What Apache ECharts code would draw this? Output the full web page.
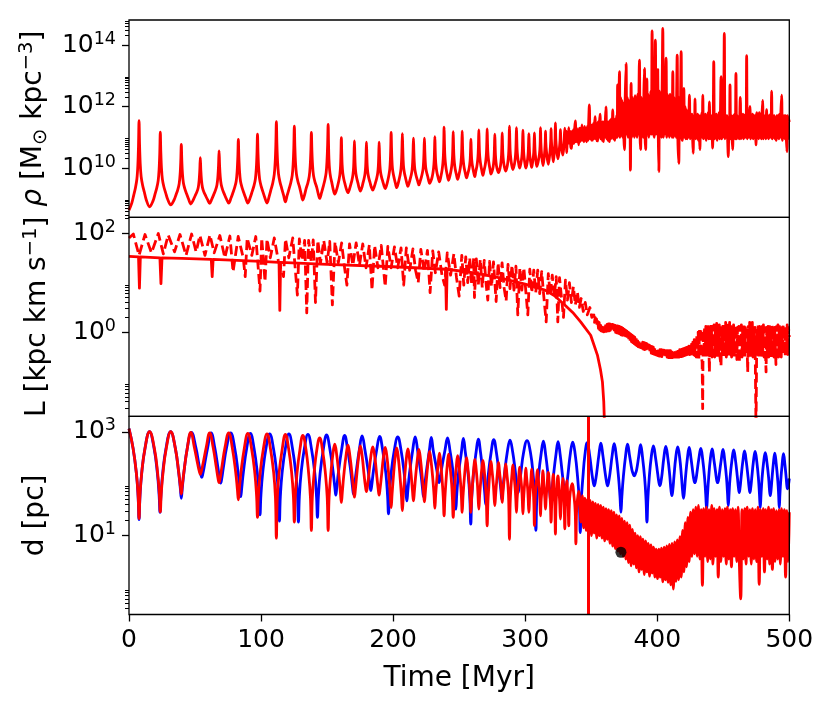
<!DOCTYPE html>
<html><head><meta charset="utf-8">
<script src="https://cdn.jsdelivr.net/npm/echarts@6/dist/echarts.min.js"></script>
<style>html,body{margin:0;padding:0;background:#fff}#c{width:830px;height:705px}</style>
</head><body><div id="c"></div>
<script>
// ---------------- DATA (time in Myr, values are log10 of the plotted quantity) ----------------
const xTicks = [0, 100, 200, 300, 400, 500];

// Top panel: rho [Msun kpc^-3], log10 values
const rhoPts = [
[0,8.63],[2.1,8.86],[3.6,9.12],[4.9,9.36],[6.0,9.65],[6.7,10.09],[7.2,10.73],[7.6,11.54],[8.0,10.76],[8.5,10.14],[9.2,9.72],[10.3,9.44],[11.6,9.22],[13.1,8.96],[15.6,8.74],
[18.2,8.93],[19.7,9.15],[21.0,9.35],[22.1,9.59],[22.8,9.96],[23.3,10.49],[23.7,11.17],[24.1,10.51],[24.6,9.99],[25.3,9.63],[26.4,9.39],[27.7,9.2],[29.2,8.99],[31.6,8.80],
[34.1,8.96],[35.6,9.13],[36.9,9.29],[38.0,9.49],[38.7,9.79],[39.2,10.22],[39.6,10.77],[40.0,10.23],[40.5,9.80],[41.2,9.51],[42.3,9.32],[43.6,9.16],[45.1,8.99],[46.8,8.83],
[48.5,8.95],[50.0,9.09],[51.3,9.21],[52.4,9.36],[53.1,9.59],[53.6,9.92],[54.0,10.34],[54.4,9.92],[54.9,9.6],[55.6,9.37],[56.7,9.22],[58.0,9.1],[59.5,8.97],[61.1,8.85],
[62.7,8.99],[64.2,9.14],[65.5,9.28],[66.6,9.45],[67.3,9.71],[67.8,10.08],[68.2,10.56],[68.6,10.08],[69.1,9.71],[69.8,9.46],[70.9,9.29],[72.2,9.15],[73.7,9.0],[75.5,8.86],
[77.3,9.03],[78.8,9.21],[80.1,9.38],[81.2,9.58],[81.9,9.9],[82.4,10.35],[82.8,10.93],[83.2,10.35],[83.7,9.9],[84.4,9.58],[85.5,9.38],[86.8,9.21],[88.3,9.03],[90,8.86],
[91.8,9.04],[93.3,9.24],[94.6,9.42],[95.7,9.64],[96.4,9.98],[96.9,10.47],[97.3,11.10],[97.7,10.47],[98.2,9.98],[98.9,9.64],[100.0,9.42],[101.3,9.24],[102.8,9.04],[104.5,8.86],
[106.1,9.07],[107.6,9.31],[108.9,9.52],[110.0,9.79],[110.7,10.19],[111.2,10.77],[111.6,11.51],[112.0,10.78],[112.5,10.21],[113.2,9.81],[114.3,9.55],[115.6,9.34],[117.1,9.11],[118.4,8.90],
[119.7,9.10],[121.2,9.32],[122.5,9.52],[123.6,9.76],[124.3,10.13],[124.8,10.67],[125.2,11.36],[125.6,10.69],[126.1,10.16],[126.8,9.8],[127.9,9.56],[129.2,9.37],[130.4,9.15],[131.6,8.96],
[132.9,9.12],[134.1,9.33],[135.4,9.51],[136.5,9.73],[137.2,10.06],[137.7,10.54],[138.1,11.16],[138.5,10.56],[139.0,10.09],[139.7,9.76],[140.8,9.55],[142.1,9.38],[143.2,9.18],[144.4,9.01],
[145.8,9.2],[147.2,9.42],[148.3,9.61],[149.3,9.85],[149.9,10.21],[150.4,10.75],[150.8,11.42],[151.1,10.78],[151.4,10.29],[151.9,9.94],[152.6,9.72],[153.5,9.54],[154.5,9.33],[155.8,9.15],
[157.1,9.28],[158.1,9.44],[159.0,9.61],[159.7,9.79],[160.2,10.07],[160.5,10.47],[160.8,10.99],[161.1,10.49],[161.4,10.1],[161.9,9.83],[162.6,9.65],[163.5,9.49],[164.5,9.33],[165.8,9.2],
[167.0,9.32],[168.0,9.47],[168.9,9.62],[169.6,9.79],[170.1,10.04],[170.4,10.41],[170.7,10.88],[171.0,10.42],[171.3,10.07],[171.8,9.82],[172.5,9.66],[173.4,9.51],[174.2,9.36],[175.2,9.25],
[176.3,9.36],[177.1,9.5],[178.0,9.65],[178.7,9.81],[179.2,10.05],[179.5,10.4],[179.8,10.84],[180.1,10.4],[180.4,10.06],[180.9,9.83],[181.6,9.67],[182.5,9.53],[183.4,9.39],[184.6,9.28],
[185.7,9.39],[186.7,9.53],[187.6,9.67],[188.3,9.83],[188.8,10.06],[189.1,10.4],[189.4,10.84],[189.7,10.42],[190.0,10.09],[190.5,9.86],[191.2,9.71],[192.1,9.57],[193.0,9.44],[194,9.33],
[195.2,9.46],[196.1,9.62],[196.9,9.79],[197.5,9.97],[197.9,10.25],[198.2,10.65],[198.5,11.16],[198.8,10.66],[199.1,10.26],[199.5,9.99],[200.1,9.81],[200.9,9.65],[201.8,9.49],[202.7,9.36],
[203.7,9.48],[204.6,9.64],[205.4,9.8],[206.0,9.98],[206.4,10.24],[206.7,10.63],[207.0,11.12],[207.3,10.64],[207.6,10.26],[208.0,10.0],[208.6,9.83],[209.4,9.68],[210.3,9.52],[211.2,9.40],
[212.1,9.51],[213.0,9.65],[213.8,9.79],[214.4,9.95],[214.8,10.19],[215.1,10.53],[215.4,10.97],[215.7,10.54],[216.0,10.21],[216.4,9.98],[217.0,9.83],[217.8,9.69],[218.7,9.56],[219.5,9.45],
[220.4,9.56],[221.3,9.69],[222.1,9.83],[222.7,9.98],[223.1,10.21],[223.4,10.54],[223.7,10.97],[224.0,10.56],[224.3,10.24],[224.7,10.01],[225.3,9.87],[226.1,9.74],[226.9,9.6],[227.6,9.5],
[229.2,9.65],[230.1,9.83],[230.7,10.03],[231.1,10.26],[231.35,10.59],[231.6,11.02],[231.85,10.61],[232.1,10.29],[232.5,10.06],[233.1,9.87],[234.0,9.7],[235.1,9.55],
[236.2,9.73],[237.1,9.94],[237.7,10.17],[238.1,10.44],[238.35,10.83],[238.6,11.33],[238.85,10.85],[239.1,10.47],[239.5,10.21],[240.1,9.98],[241.0,9.77],[242,9.6],
[243.1,9.76],[244.0,9.95],[244.6,10.15],[245.0,10.39],[245.25,10.74],[245.5,11.18],[245.75,10.75],[246.0,10.41],[246.4,10.17],[247.0,9.97],[247.9,9.79],[248.9,9.63],
[249.9,9.79],[250.8,9.98],[251.4,10.18],[251.8,10.42],[252.05,10.76],[252.3,11.2],[252.55,10.77],[252.8,10.44],[253.2,10.21],[253.8,10.01],[254.7,9.83],[255.6,9.68],
[256.5,9.81],[257.4,9.96],[258.0,10.12],[258.4,10.31],[258.65,10.59],[258.9,10.94],[259.15,10.6],[259.4,10.33],[259.8,10.15],[260.4,9.99],[261.1,9.84],[261.9,9.72],
[262.5,9.87],[263.4,10.05],[264.0,10.25],[264.4,10.48],[264.65,10.81],[264.9,11.24],[265.15,10.83],[265.4,10.5],[265.8,10.28],[266.4,10.09],[267.2,9.91],[268,9.76],
[268.8,9.91],[269.7,10.09],[270.3,10.29],[270.7,10.52],[270.95,10.85],[271.2,11.27],[271.45,10.86],[271.7,10.54],[272.1,10.31],[272.7,10.12],[273.4,9.95],[274.1,9.8],
[275.4,9.96],[276.1,10.16],[276.5,10.39],[276.75,10.71],[277,11.1],[277.25,10.73],[277.5,10.41],[277.9,10.2],[278.6,10.0],[279.8,9.85],
[281.0,10.0],[281.7,10.21],[282.1,10.43],[282.35,10.75],[282.6,11.14],[282.85,10.77],[283.1,10.46],[283.5,10.25],[284.2,10.05],[285.3,9.9],
[286.5,10.08],[287.2,10.31],[287.6,10.56],[287.85,10.92],[288.1,11.36],[288.35,10.94],[288.6,10.58],[289.0,10.35],[289.7,10.12],[290.7,9.95],
[291.8,10.11],[292.5,10.33],[292.9,10.56],[293.15,10.9],[293.4,11.31],[293.65,10.92],[293.9,10.59],[294.3,10.37],[295.0,10.16],[295.8,10.0],
[296.7,10.15],[297.4,10.34],[297.8,10.55],[298.05,10.86],[298.3,11.23],[298.55,10.86],[298.8,10.55],[299.2,10.34],[299.8,10.15],[300.5,10.0],
[301.3,10.13],[301.9,10.31],[302.3,10.5],[302.55,10.78],[302.8,11.12],[303.05,10.79],[303.3,10.52],[303.7,10.33],[304.3,10.15],[304.9,10.02],
[305.5,10.15],[306.1,10.33],[306.5,10.52],[306.75,10.8],[307,11.14],[307.25,10.8],[307.5,10.54],[307.9,10.35],[308.8,10.05],
[309.8,10.2],[310.8,10.45],[311.3,10.75],[311.6,11.31],[311.9,10.8],[312.4,10.45],[313.5,10.08],
[314.4,10.35],[314.9,10.6],[315.2,10.85],[315.4,11.2],[315.6,10.85],[316.1,10.55],[317.5,10.12],
[318.6,10.45],[319.1,10.7],[319.4,10.95],[319.6,11.28],[319.8,10.95],[320.3,10.6],[321.3,10.2],
[322.1,10.55],[322.6,10.9],[322.9,11.47],[323.2,10.95],[323.8,10.6],[324.8,10.3],
[325.8,10.6],[326.4,10.9],[326.7,11.25],[327.0,10.9],[327.6,10.65],[328.5,10.42],[329.3,10.7],
[330.0,11.3],[330.5,10.8],[331.0,11.2],[331.5,10.5],[332.0,11.1],[332.5,10.8],[333.0,11.31],[333.5,10.8],[334.0,11.2],[334.5,10.7],
[335.0,10.64],[335.5,11.2],[336.0,10.8],[336.5,11.25],[337.0,10.8],[337.5,11.3],[338.0,11.53],[338.5,10.85],[339.0,11.3],[339.5,10.85],
[340.0,11.25],[340.5,10.75],[341.0,11.3],[341.5,10.85],[342.0,11.3],[342.5,10.9],[343.0,11.4],[343.5,10.9],[344.0,11.3],[344.5,10.85],
[345.0,11.35],[345.5,10.9],[346.0,11.3],[346.5,10.85],[347.0,11.35],[347.5,10.9],[348.0,11.4],[348.6,12.05],[349.1,10.95],[349.6,11.4],
[350.1,10.9],[350.6,11.4],[351.1,10.9],[351.6,11.45],[352.1,10.95],[352.5,11.4],[352.9,11.67],[353.4,10.95],[353.9,11.45],[354.4,10.9],
[354.8,10.88],[355.3,11.5],[355.8,11.0],[356.3,11.5],[356.7,11.75],[357.2,10.95],[357.7,11.45],[358.2,10.9],[358.7,11.5],[359.2,10.86],
[359.7,11.5],[360.2,11.0],[360.7,11.55],[361.2,11.99],[361.7,10.95],[362.2,11.5],[362.7,10.9],[363.2,11.5],[363.8,10.86],[364.3,11.55],
[364.8,10.95],[365.3,11.6],[365.8,11.0],[366.3,11.89],[366.8,10.95],[367.3,11.55],[367.8,10.9],[368.3,11.6],[368.8,11.0],[369.3,11.7],
[369.7,11.0],[370.0,12.7],[370.5,11.1],[371.0,12.2],[371.4,13.13],[371.8,11.0],[372.3,12.3],[372.8,11.1],[373.3,12.2],[373.8,11.0],
[374.3,12.1],[374.8,10.9],[375.2,10.59],[375.7,12.2],[376.4,13.4],[376.9,11.1],[377.4,12.3],[377.9,11.0],[378.4,12.2],[378.9,11.1],
[379.3,12.0],[379.7,9.93],[380.2,12.75],[380.7,11.0],[381.2,12.3],[381.7,11.1],[382.2,12.2],[382.7,11.0],[383.2,12.35],[383.7,11.1],
[384.2,12.2],[384.7,11.0],[385.2,12.4],[385.7,11.1],[386.1,12.3],[386.5,13.51],[387.0,11.0],[387.4,10.6],[387.9,12.3],[388.4,11.1],
[388.9,12.2],[389.4,11.0],[389.9,12.5],[390.3,13.24],[390.8,11.0],[391.2,10.6],[391.7,12.3],[392.1,12.9],[392.6,11.1],[393.1,12.4],
[393.6,11.0],[394.1,12.3],[394.6,11.1],[395.1,12.5],[395.6,11.1],[396.1,14.46],[396.6,11.1],[397.1,12.4],[397.6,11.0],[398.1,12.6],
[398.6,14.16],[399.1,11.1],[399.6,12.4],[400.0,11.1],[400.4,13.2],[400.8,11.0],[401.2,9.88],[401.7,12.5],[402.2,11.1],[402.7,12.4],
[403.2,11.0],[403.7,12.6],[404.2,14.54],[404.7,11.0],[405.2,12.4],[405.7,11.1],[406.2,12.5],[406.7,13.57],[407.2,11.0],[407.7,12.4],
[408.2,11.1],[408.7,12.3],[409.2,11.0],[409.7,12.4],[410.2,11.1],[410.7,12.2],[411.2,11.0],[411.8,13.13],[412.3,11.0],[412.8,12.3],
[413.3,11.1],[413.8,12.2],[414.3,11.0],[414.7,12.4],[415.1,13.67],[415.6,11.0],[416.3,10.15],[416.8,12.3],[417.3,11.1],[417.7,12.4],
[418.1,13.78],[418.6,11.0],[419.1,10.9],[419.6,12.2],[420.1,12.59],[420.6,11.0],[421.1,12.0],[421.6,10.95],[422.1,11.9],
[422.6,10.95],[423.1,11.75],[423.6,11.0],[424.0,11.7],[424.4,12.37],[424.9,10.95],[425.4,11.7],[425.9,11.0],[426.3,11.75],[426.8,10.95],
[427.2,10.48],[427.7,11.7],[428.2,11.0],[428.6,12.25],[429.1,10.95],[429.6,11.7],[430.1,11.0],[430.6,11.75],[431.1,10.9],[431.6,11.7],
[432.0,11.0],[432.3,10.6],[432.8,11.7],[433.3,11.0],[433.8,11.8],[434.1,11.0],[434.5,12.37],[435.0,10.95],[435.5,11.7],[436.0,11.0],
[436.5,11.75],[437.0,10.9],[437.5,11.7],[438.0,11.0],[438.5,11.8],[439.0,10.95],[439.5,12.15],[440.0,10.95],[440.5,11.7],[441.0,11.0],
[441.5,11.7],[441.9,10.65],[442.4,11.7],[442.8,13.46],[443.3,10.95],[443.8,11.7],[444.3,11.0],[444.8,11.75],[445.3,10.9],[445.8,11.7],
[446.3,11.0],[446.8,11.8],[447.3,10.95],[447.8,11.7],[448.3,12.97],[448.8,10.95],[449.3,11.7],[449.8,11.0],[450.3,11.8],[450.8,14.38],
[451.3,10.95],[451.8,11.7],[452.3,11.0],[452.8,11.7],[453.3,10.95],[453.8,10.37],[454.3,11.6],[454.7,11.0],[455.1,12.7],[455.6,10.95],
[456.1,11.7],[456.6,11.0],[457.1,10.6],[457.6,11.7],[458.1,11.0],[458.6,11.75],[459.1,10.95],[459.6,13.08],[460.1,10.95],[460.6,11.7],
[461.1,11.0],[461.6,11.6],[462.1,10.95],[462.5,11.7],[462.9,12.3],[463.4,10.95],[463.9,11.7],[464.4,11.0],[464.9,11.75],[465.4,10.95],
[465.9,11.7],[466.4,11.0],[466.9,11.75],[467.3,11.0],[467.7,13.65],[468.2,10.95],[468.7,11.6],[469.2,11.0],[469.7,11.7],[470.2,12.0],
[470.7,10.95],[471.2,11.7],[471.7,11.0],[472.2,11.75],[472.7,10.95],[473.2,11.7],[473.7,11.0],[474.2,11.7],[474.8,10.75],[475.3,11.8],
[475.8,11.0],[476.3,11.75],[476.8,10.95],[477.3,11.8],[477.8,11.0],[478.3,11.7],[478.8,10.95],[479.3,11.7],[479.8,12.2],[480.3,10.95],
[480.8,11.7],[481.3,11.0],[481.8,11.7],[482.3,10.95],[482.8,11.9],[483.3,11.0],[483.8,11.7],[484.3,10.95],[484.8,11.7],[485.3,11.0],
[485.8,11.75],[486.2,11.0],[486.6,12.5],[487.1,10.95],[487.6,11.7],[488.1,11.0],[488.6,11.7],[489.1,10.95],[489.6,11.5],[490.1,10.9],
[490.6,11.7],[491.1,11.0],[491.6,11.7],[492.1,10.95],[492.6,11.75],[493.1,11.0],[493.6,11.8],[494.2,12.37],[494.7,10.9],[495.2,11.7],
[495.7,11.0],[496.2,11.7],[496.7,10.95],[497.2,11.7],[497.7,11.0],[498.2,10.53],[498.7,11.7],[499.2,10.95],[499.6,11.6],[500,11.5]
];

// Middle panel: L [kpc km/s], log10 values (solid line)
const lSolid = [
[0,1.53],[7.2,1.52],[7.9,0.89],[8.6,1.52],[23.4,1.5],[24.2,0.98],[25,1.5],[40,1.49],[62.3,1.47],[63,1.12],
[63.7,1.47],[100,1.43],[113.6,1.41],[114.2,0.44],[114.8,1.41],[150,1.37],[200,1.32],[224,1.29],[239.7,1.27],
[240.3,0.46],[240.9,1.27],[260,1.2],[280,1.1],[300,0.97],[315,0.85],[322,0.74],[330,0.55],[336,0.4],[342,0.21],
[349.6,-0.06],[354.7,-0.46],[357,-0.75],[358.5,-1.0],[359.5,-1.4],[360,-1.8],[360.3,-2.5]
];

// Middle panel: L, log10 values (dashed line)
const lDash = [
[0,1.9],[3.3,1.98],[7.6,1.55],[12.1,1.97],[17,1.6],[22.2,1.99],[26,1.58],[29.7,1.96],[34.5,1.62],[38.6,1.97],
[43.2,1.55],[47.4,1.98],[50.8,1.62],[53.7,1.95],[57.5,1.55],[61.3,1.96],[64.5,1.6],[68.8,1.95],[72.6,1.5],[76.4,1.94],
[78.8,1.22],[82.7,1.93],[86.5,1.5],[88.0,1.12],[89.5,1.9],[93,1.55],[96,1.93],[99.2,0.83],[100.5,1.9],[103,1.02],
[104.5,1.88],[107,1.5],[110,1.9],[113,1.45],[117,1.12],[118.5,1.88],[121,1.5],[124,1.9],[127.5,0.75],[129,1.88],
[131,1.45],[133,1.85],[134.6,0.39],[136,1.85],[138,1.42],[139.5,1.86],[141.2,0.6],[143,1.85],[145,1.4],[147.5,1.85],
[150,1.4],[152,1.83],[154,0.55],[156,1.82],[158.5,1.4],[161,1.8],[163,1.35],[165,0.95],[167,1.78],[169.5,1.35],
[172,1.8],[174.5,1.35],[177,1.78],[179.5,1.3],[182,1.76],[184,0.85],[186,1.75],[188.5,1.3],[191,1.75],[194,0.92],
[196,1.73],[198.5,1.3],[201,1.72],[203.5,1.3],[206,1.7],[208,0.95],[210,1.7],[212.5,1.25],[215,1.68],[217,1.25],
[219,1.0],[221,1.67],[223.5,1.22],[226,1.65],[228,0.8],[230,1.64],[232,1.2],[234.5,1.62],[237,1.15],[239,0.95],
[241,1.6],[243.5,1.15],[246,1.58],[248,1.1],[250,0.73],[252,1.55],[253.5,0.95],[255,1.52],[256.5,1.0],[258,1.5],
[259.5,0.95],[261,1.5],[261.6,0.7],[263,1.48],[264.5,0.95],[266,1.47],[267.5,0.9],[269,1.45],[270.5,0.95],[271.7,0.65],
[273,1.43],[274.5,0.92],[276,1.42],[278,0.62],[279.5,1.4],[281,0.9],[282.5,1.4],[284,0.9],[285.6,0.63],[287,1.37],
[288.5,0.88],[290,1.35],[291.5,0.85],[293,1.33],[294.4,0.35],[296,1.3],[297.5,0.85],[299,1.3],[300.5,0.82],[302,0.35],
[303.5,1.27],[305,0.8],[306.5,1.25],[308,0.8],[309.5,1.25],[311,0.78],[312.5,1.22],[314,0.75],[315.9,0.21],[317.5,1.18],
[319,0.75],[320.5,1.15],[322,0.72],[323.5,1.12],[324.7,0.21],[326,1.1],[327.5,0.7],[329,0.3],[330.5,1.05],[332,0.65],
[333.5,1.0],[335,0.6],[336.5,0.92],[338,0.55],[339.5,0.82],[341,0.5],[342.4,0.68],[344,0.42],[345.5,0.6],[347,0.35],
[349,0.5],[350.5,0.3],
[352,0.35],[352.5,0.2],[353,0.3],[353.5,0.15],[354,0.27],[354.5,0.12],[355,0.22],[355.5,0.08],[356,0.2],[356.5,0.05],
[357,0.17],[357.5,0.03],[358,0.16],[358.5,0.02],[359,0.15],[359.5,0.01],[360,0.15],[360.5,0.02],[361,0.16],[361.5,0.02],
[362,0.16],[362.5,0.03],[363,0.17],[363.5,0.03],[364,0.17],[364.5,0.04],[365,0.16],[365.5,0.03],[366,0.16],[366.5,0.02],
[367,0.15],[367.5,0.01],[368,0.14],[368.5,0.0],[369,0.13],[369.5,-0.01],[370,0.13],[370.5,-0.02],[371,0.12],[371.5,-0.03],
[372,0.11],[372.5,-0.05],[373,0.1],[373.5,-0.06],[374,0.08],[374.5,-0.08],[375,0.06],[375.5,-0.1],[376,0.04],[376.5,-0.12],
[377,0.02],[377.5,-0.13],[378,0.0],[378.5,-0.15],[379,-0.02],[379.5,-0.17],[380,-0.04],[380.5,-0.19],[381,-0.06],[381.5,-0.21],
[382,-0.08],[382.5,-0.23],[383,-0.1],[383.5,-0.25],[384,-0.12],[384.5,-0.27],[385,-0.14],[385.5,-0.29],[386,-0.16],[386.5,-0.3],
[387,-0.17],[387.5,-0.31],[388,-0.18],[388.5,-0.32],[389,-0.2],[389.5,-0.34],[390,-0.21],[390.5,-0.35],[391,-0.22],[391.5,-0.36],
[392,-0.23],[392.5,-0.37],[393,-0.25],[393.5,-0.39],[394,-0.26],[394.5,-0.4],[395,-0.28],[395.5,-0.42],[396,-0.29],[396.5,-0.43],
[397,-0.3],[397.5,-0.44],[398,-0.31],[398.5,-0.45],[399,-0.32],[399.5,-0.46],[400,-0.33],[400.5,-0.47],[401,-0.34],[401.5,-0.48],
[402,-0.35],[402.5,-0.48],[403,-0.35],[403.5,-0.49],[404,-0.36],[404.5,-0.49],[405,-0.36],[405.5,-0.5],[406,-0.37],[406.5,-0.5],
[407,-0.37],[407.5,-0.5],[408,-0.37],[408.5,-0.51],[409,-0.37],[409.5,-0.51],[410,-0.37],[410.5,-0.51],[411,-0.37],[411.5,-0.51],
[412,-0.37],[412.5,-0.5],[413,-0.37],[413.5,-0.5],[414,-0.36],[414.5,-0.5],[415,-0.36],[415.5,-0.5],[416,-0.36],[416.5,-0.5],
[417,-0.35],[417.5,-0.49],[418,-0.35],[418.5,-0.49],[419,-0.34],[419.5,-0.48],[420,-0.33],[420.5,-0.47],[421,-0.32],[421.5,-0.46],
[422,-0.31],[422.5,-0.45],[423,-0.3],[423.5,-0.44],[424,-0.28],[424.5,-0.45],[425,-0.26],[425.5,-0.44],[426,-0.24],[426.5,-0.43],
[427,-0.2],[427.5,-0.45],[428,-0.15],[428.5,-0.47],[429,-0.1],[429.5,-0.5],[430,-0.05],
[430.5,-0.5],[431,0.0],[431.5,-0.55],[432,0.05],[432.5,-0.5],[433,0.08],[433.5,-0.5],[434,-0.6],[434.4,-1.54],[434.8,0.05],
[435.3,-0.5],[435.8,0.1],[436.3,-0.45],[436.8,0.12],[437.3,-0.5],[437.8,0.1],[438.3,-0.45],[438.8,0.15],[439.5,-0.8],[440,0.1],
[440.5,-0.45],[441,0.15],[441.5,-0.5],[442,0.12],[442.5,-0.45],[443,0.15],[443.5,-0.5],[444,0.1],[444.5,-0.45],[445,0.18],
[445.5,-0.5],[446,0.12],[446.5,-0.45],[447,0.15],[447.5,-0.5],[448.3,-0.68],[448.8,0.12],[449.3,-0.45],[449.8,0.15],[450.3,-0.5],
[450.8,0.1],[451.3,-0.45],[451.8,0.2],[452.3,-0.5],[452.8,0.12],[453.3,-0.45],[453.8,0.15],[454.3,-0.5],[454.8,0.2],[455.3,-0.45],
[455.8,0.12],[456.3,-0.5],[456.8,0.1],[457.3,-0.45],[457.8,0.15],[458.3,-0.5],[458.8,0.12],[459.3,-0.45],[459.8,0.15],[460.3,-0.55],
[460.8,0.1],[461.3,-0.45],[461.8,0.12],[462.2,-0.62],[462.7,0.12],[463.2,-0.45],[463.7,0.15],[464.2,-0.5],[464.7,0.12],[465.2,-0.45],
[465.7,0.15],[466.2,-0.5],[466.7,0.1],[467.2,-0.45],[467.7,0.12],[468.5,-0.8],[469,0.12],[469.5,-0.45],[470,0.2],[470.5,-0.5],
[471,0.15],[471.5,-0.45],[472,0.2],[472.5,-0.5],[473,0.1],[473.5,-0.45],[474,0.1],[474.8,-2.0],[475.4,0.1],[475.9,-0.45],
[476.4,0.15],[476.9,-0.5],[477.4,0.12],[477.9,-0.45],[478.4,0.1],[478.9,-0.5],[479.4,0.12],[479.9,-0.45],[480.4,0.15],[480.9,-0.5],
[481.4,0.1],[482.4,-0.8],[482.9,0.1],[483.4,-0.45],[483.9,0.12],[484.4,-0.5],[484.9,0.15],[485.4,-0.45],[485.9,0.1],[486.4,-0.5],
[486.9,0.15],[487.4,-0.45],[487.9,0.12],[488.4,-0.5],[488.9,0.1],[489.9,-0.65],[490.4,0.12],[490.9,-0.45],[491.4,0.15],[491.9,-0.5],
[492.4,0.18],[492.9,-0.45],[493.4,0.12],[493.9,-0.5],[494.4,0.1],[494.9,-0.4],[495.4,0.15],[495.9,-0.45],[496.4,0.12],[496.9,-0.5],
[497.4,0.1],[497.9,-0.4],[498.4,0.15],[498.9,-0.45],[499.4,0.1],[500,-0.1]
];

// Bottom panel: d [pc], log10 values (blue)
const dBlue = [
[0,3.06],
[3.1,2.68],[5.6,2.2],[6.9,1.75],[7.6,1.31],[8.3,1.75],[9.6,2.2],[12.1,2.68],[15.5,3.0],
[19,2.68],[21.5,2.2],[22.8,1.78],[23.5,1.45],[24.2,1.78],[25.5,2.2],[28,2.68],[31.5,3.0],
[35.1,2.68],[37.6,2.22],[38.9,1.9],[39.6,1.72],[40.3,1.9],[41.6,2.22],[44.1,2.68],[47.3,2.99],
[50.6,2.7],[53.1,2.35],[54.4,2.18],[55.1,2.12],[55.8,2.18],[57.1,2.35],[59.6,2.7],[62.2,2.98],
[64.9,2.7],[67.4,2.3],[68.7,2.08],[69.4,2.01],[70.1,2.08],[71.4,2.3],[73.9,2.7],[77,2.98],
[80.1,2.68],[82.6,2.22],[83.9,1.9],[84.6,1.75],[85.3,1.9],[86.6,2.22],[89.1,2.68],[91.9,2.97],
[94.7,2.68],[97.2,2.2],[98.5,1.78],[99.2,1.4],[99.9,1.78],[101.2,2.2],[103.7,2.68],[106.5,2.96],
[109.4,2.68],[111.9,2.2],[113.2,1.75],[113.9,1.28],[114.6,1.75],[115.9,2.2],[118.4,2.68],[121.1,2.96],
[123.8,2.68],[126.3,2.2],[127.6,1.75],[128.3,1.26],[129,1.75],[130.3,2.2],[132.8,2.68],[135.5,2.95],
[138.2,2.67],[140.7,2.2],[142,1.75],[142.7,1.35],[143.4,1.75],[144.7,2.2],[147.2,2.67],[149.6,2.94],
[152.1,2.67],[154.6,2.22],[155.9,1.92],[156.6,1.78],[157.3,1.92],[158.6,2.22],[161.1,2.67],[163.3,2.93],
[165.5,2.67],[168,2.22],[169.3,1.93],[170,1.8],[170.7,1.93],[172,2.22],[174.5,2.67],[176.5,2.92],
[178.6,2.66],[181.1,2.25],[182.4,1.97],[183.1,1.87],[183.8,1.97],[185.1,2.25],[187.6,2.66],[189.8,2.91],
[192,2.66],[194.5,2.2],[195.8,1.77],[196.5,1.42],[197.2,1.77],[198.5,2.2],[201,2.66],[203.5,2.9],
[205.9,2.66],[208.4,2.2],[209.7,1.85],[210.4,1.67],[211.1,1.85],[212.4,2.2],[214.9,2.66],[216.7,2.9],
[218.5,2.65],[221,2.2],[222.3,1.9],[223,1.75],[223.7,1.9],[225,2.2],[227.5,2.65],[228.9,2.89],
[230.3,2.65],[232.8,2.3],[234.1,2.1],[234.8,2.02],[235.5,2.1],[236.8,2.3],[239.3,2.65],[241.2,2.88],
[243.1,2.63],[245.5,2.2],[246.8,1.8],[247.5,1.51],[248.2,1.8],[249.5,2.2],[251.7,2.6],[253.2,2.87],
[254.7,2.6],[256.8,2.18],[258.1,1.72],[258.8,1.22],[259.5,1.72],[260.8,2.18],[262.8,2.6],[264.5,2.86],
[266.2,2.6],[268.1,2.18],[269.4,1.82],[270.1,1.6],[270.8,1.82],[272.1,2.18],[274.2,2.6],[276.2,2.85],
[278.2,2.6],[280.3,2.18],[281.6,1.88],[282.3,1.7],[283,1.88],[284.3,2.18],[286.4,2.6],[288.5,2.84],
[290.6,2.6],[292.7,2.2],[294,1.95],[294.7,1.83],[295.4,1.95],[296.7,2.2],[298.8,2.6],[301.4,2.83],
[304,2.6],[306.1,2.15],[307.4,1.7],[308.1,1.1],[308.8,1.7],[310.1,2.15],[312.2,2.6],[313.8,2.82],
[315.4,2.58],[317.4,2.15],[318.7,1.82],[319.4,1.65],[320.1,1.82],[321.4,2.15],[323.4,2.58],[324.9,2.81],
[326.4,2.58],[328.3,2.15],[329.6,1.88],[330.3,1.75],[331,1.88],[332.3,2.15],[334.2,2.58],[336,2.8],
[337.8,2.58],[339.7,2.12],[341,1.65],[341.7,1.06],[342.4,1.65],[343.7,2.12],[345.2,2.55],[347,2.79],
[348.8,2.55],[350.5,2.2],[351.6,2.02],[352.3,1.96],[353,2.02],[354.1,2.2],[355.8,2.55],[357.3,2.78],
[358.8,2.55],[360.6,2.2],[361.7,2.02],[362.4,1.96],[363.1,2.02],[364.2,2.2],[365.9,2.55],[367.4,2.77],
[369,2.53],[370.7,2.12],[371.8,1.75],[372.5,1.45],[373.2,1.75],[374.3,2.12],[376,2.53],[377.5,2.76],
[379.1,2.53],[380.8,2.27],[381.9,2.18],[382.6,2.15],[383.3,2.18],[384.4,2.27],[386,2.53],[387.4,2.75],
[388.8,2.52],[390.5,2.1],[391.5,1.7],[392.2,1.26],[392.9,1.7],[393.9,2.1],[395.5,2.52],[397.1,2.73],
[398.6,2.52],[400.3,2.2],[401.3,2.02],[402,1.96],[402.7,2.02],[403.7,2.2],[405,2.5],[406.5,2.72],
[408,2.5],[409.5,2.15],[410.4,1.88],[411.1,1.77],[411.8,1.88],[412.7,2.15],[414,2.5],[415.5,2.71],
[417,2.5],[418.4,2.12],[419.2,1.86],[419.9,1.72],[420.6,1.86],[421.4,2.12],[422.8,2.48],[424.2,2.7],
[425.6,2.48],[427,2.2],[427.8,2.07],[428.5,2.02],[429.2,2.07],[430,2.2],[431.5,2.48],[433,2.68],
[434.4,2.47],[435.9,2.1],[436.7,1.8],[437.4,1.51],[438.1,1.8],[438.9,2.1],[440.2,2.47],[441.6,2.67],
[442.9,2.46],[444.3,2.2],[445,2.07],[445.7,2.02],[446.4,2.07],[447.1,2.2],[448.4,2.45],[449.8,2.66],
[451.1,2.45],[452.5,2.1],[453.2,1.82],[453.8,1.58],[454.4,1.82],[455.1,2.1],[456.5,2.44],[457.9,2.65],
[459.3,2.44],[460.7,2.12],[461.5,1.92],[462.1,1.83],[462.7,1.92],[463.5,2.12],[464.8,2.43],[466.1,2.63],
[467.4,2.43],[468.8,2.12],[469.6,1.92],[470.2,1.83],[470.8,1.92],[471.6,2.12],[472.8,2.42],[474.1,2.62],
[475.4,2.42],[476.7,2.08],[477.4,1.8],[478,1.54],[478.6,1.8],[479.3,2.08],[480.5,2.4],[481.8,2.6],
[483.1,2.4],[484.4,2.1],[485,1.88],[485.6,1.77],[486.2,1.88],[486.9,2.1],[487.9,2.38],[489,2.59],
[490.1,2.38],[491.3,2.05],[491.9,1.8],[492.4,1.54],[492.9,1.8],[493.5,2.05],[494.5,2.35],[495.6,2.58],
[496.7,2.36],[497.7,2.1],[498.2,1.95],[498.7,1.9],[499.2,1.95],[500,2.1]
];

// Bottom panel: d [pc], log10 values (red)
const dRed = [
[0,3.06],
[3.1,2.68],[5.6,2.2],[6.9,1.77],[7.6,1.33],[8.3,1.77],[9.6,2.2],[12.1,2.68],[15.6,3.0],
[19.2,2.68],[21.7,2.2],[23,1.8],[23.7,1.46],[24.4,1.8],[25.7,2.2],[28.2,2.68],[31.6,3.0],
[35.1,2.68],[37.6,2.23],[38.9,1.95],[39.6,1.8],[40.3,1.95],[41.6,2.23],[44.1,2.68],[46.8,2.99],
[49.5,2.7],[52,2.38],[53.3,2.23],[54,2.18],[54.7,2.23],[56,2.38],[58.5,2.7],[61.1,2.98],
[63.7,2.7],[66.2,2.3],[67.5,2.09],[68.2,2.02],[68.9,2.09],[70.2,2.3],[72.7,2.7],[75.5,2.98],
[78.3,2.68],[80.8,2.22],[82.1,1.88],[82.8,1.69],[83.5,1.88],[84.8,2.22],[87.3,2.68],[90,2.97],
[92.8,2.68],[95.3,2.2],[96.6,1.77],[97.3,1.35],[98,1.77],[99.3,2.2],[101.8,2.68],[104.5,2.96],
[107.1,2.68],[109.6,2.2],[110.9,1.73],[111.6,0.95],[112.3,1.73],[113.6,2.2],[116.1,2.68],[118.4,2.95],
[120.9,2.67],[123.2,2.2],[124.5,1.75],[125.2,1.26],[125.9,1.75],[127.2,2.2],[129.5,2.67],[131.6,2.93],
[134,2.66],[136.1,2.18],[137.4,1.73],[138.1,1.1],[138.8,1.73],[140.1,2.18],[142.2,2.65],[144.4,2.88],
[146.8,2.6],[148.8,2.18],[150.1,1.73],[150.8,1.1],[151.5,1.73],[152.8,2.18],[154.3,2.55],[155.8,2.76],
[157.3,2.55],[159,2.15],[160.1,1.83],[160.8,1.64],[161.5,1.83],[162.6,2.15],[164.3,2.53],[165.8,2.74],
[167.3,2.53],[169,2.15],[170,1.88],[170.7,1.74],[171.4,1.88],[172.4,2.15],[173.8,2.5],[175.2,2.73],
[176.6,2.52],[178.1,2.15],[179.1,1.94],[179.8,1.85],[180.5,1.94],[181.5,2.15],[183.1,2.52],[184.6,2.71],
[186.2,2.5],[187.7,2.13],[188.7,1.9],[189.4,1.78],[190.1,1.9],[191.1,2.13],[192.6,2.5],[194,2.7],
[195.4,2.5],[196.9,2.1],[197.8,1.8],[198.5,1.54],[199.2,1.8],[200.1,2.1],[201.4,2.48],[202.7,2.69],
[204,2.48],[205.4,2.08],[206.3,1.77],[207,1.48],[207.7,1.77],[208.6,2.08],[209.9,2.46],[211.2,2.67],
[212.5,2.46],[213.9,2.1],[214.7,1.85],[215.4,1.67],[216.1,1.85],[216.9,2.1],[218.3,2.45],[219.5,2.66],
[220.8,2.45],[222.2,2.08],[223,1.84],[223.7,1.65],[224.4,1.84],[225.2,2.08],[226.5,2.42],[227.6,2.62],
[228.8,2.42],[230.2,2.05],[231,1.78],[231.6,1.53],[232.2,1.78],[233,2.05],[234.1,2.38],[235.1,2.59],
[236.1,2.38],[237.3,2.0],[238,1.72],[238.6,1.38],[239.2,1.72],[239.9,2.0],[241,2.36],[242,2.57],
[243,2.36],[244.3,2.0],[244.9,1.72],[245.5,1.35],[246.1,1.72],[246.8,2.0],[247.9,2.35],[248.9,2.54],
[249.9,2.35],[251.1,2.0],[251.7,1.75],[252.3,1.45],[252.9,1.75],[253.6,2.0],[254.7,2.33],[255.6,2.5],
[256.5,2.33],[257.7,2.0],[258.3,1.75],[258.9,1.45],[259.5,1.75],[260.2,2.0],[261.1,2.3],[261.9,2.47],
[262.8,2.3],[263.8,2.0],[264.3,1.77],[264.9,1.51],[265.5,1.77],[266.2,2.0],[267.1,2.28],[268,2.45],
[268.9,2.28],[270,1.95],[270.6,1.65],[271.2,1.19],[271.8,1.65],[272.5,1.95],[273.3,2.25],[274.1,2.43],
[274.9,2.25],[275.9,1.98],[276.4,1.78],[277,1.58],[277.6,1.78],[278.2,1.98],[279,2.22],[279.8,2.41],
[280.6,2.22],[281.6,1.98],[282.1,1.8],[282.6,1.64],[283.1,1.8],[283.7,1.98],[284.5,2.2],[285.3,2.38],
[286.1,2.2],[287.1,1.92],[287.6,1.6],[288.1,0.93],[288.6,1.6],[289.2,1.92],[290,2.18],[290.7,2.36],
[291.5,2.18],[292.4,1.92],[292.9,1.7],[293.4,1.45],[293.9,1.7],[294.5,1.92],[295.2,2.15],[295.8,2.32],
[296.5,2.15],[297.4,1.9],[297.8,1.7],[298.3,1.42],[298.8,1.7],[299.3,1.9],[300,2.12],[300.5,2.3],
[301.1,2.12],[301.9,1.9],[302.3,1.7],[302.8,1.45],[303.3,1.7],[303.8,1.9],[304.4,2.1],[304.9,2.28],
[305.5,2.1],[306.2,1.85],[306.6,1.6],[307,1.19],[307.4,1.6],[307.9,1.85],[308.6,2.08],[309.3,2.27],
[310,2.08],[310.8,1.85],[311.2,1.65],[311.6,1.38],[312,1.65],[312.6,1.85],[313.5,2.25],
[314.2,1.95],[314.9,1.72],[315.4,1.51],[315.9,1.72],[316.5,1.95],[317.5,2.22],
[318.4,1.9],[319.1,1.62],[319.6,1.26],[320.1,1.62],[320.6,1.88],[321.3,2.18],
[322,1.85],[322.5,1.55],[322.9,1.03],[323.3,1.55],[323.9,1.85],[324.8,2.15],
[325.6,1.88],[326.2,1.6],[326.7,1.32],[327.2,1.6],[327.7,1.85],[328.5,2.1],
[329.2,1.82],[329.6,1.55],[330,1.13],[330.4,1.55],[330.9,1.85],[331.5,2.06],
[332.2,1.8],[332.6,1.55],[333,1.19],[333.4,1.55],[334,1.8],[335.5,2.0],
[337,1.75],[337.9,1.45],[338.4,0.84],[338.9,1.45],[339.6,1.7],[340.5,1.85],
[341.6,1.5],[342.2,1.26],[342.8,1.5],[343.3,1.77],
[344.2,1.15],[345.2,1.72],[346.2,1.1],[347.2,1.7],[348.2,1.05],[349.2,1.68],[350.2,1.0],[351.2,1.65],
[352.2,1.05],[353.2,1.62],[354.2,0.95],[355.2,1.6],[356.2,1.0],[357.2,1.58],[358.2,0.95],[359.2,1.55],
[360.2,0.9],[361.2,1.52],[362.2,0.93],[363.2,1.5],[364.2,0.85],[365.2,1.48],[366.2,0.8],[367.2,1.45],
[368.2,0.75],[369.2,1.4],[370.2,0.7],[371.2,1.38],[372.2,0.65],[373.2,1.33],[374.2,0.6],[375.2,1.28],
[376.2,0.55],[377.2,1.25],[378.2,0.48],[379.2,1.2],[380.2,0.42],[381.2,1.12],[382.2,0.45],[383.2,1.05],
[384.2,0.38],[385.2,1.0],[386.2,0.3],[387.2,0.98],[388.2,0.35],[389.2,0.93],[390.2,0.25],[391.2,0.9],
[392.2,0.3],[393.2,0.85],[394.2,0.22],[395.2,0.82],[396.2,0.28],[397.2,0.78],[398.2,0.2],[399.2,0.74],
[400.2,0.17],[401.2,0.74],[402.2,0.2],[403.2,0.76],[404.2,0.11],[405.2,0.78],[406.2,0.15],[407.2,0.8],
[408.2,0.1],[409.2,0.83],[410.2,0.05],[411.2,0.85],[412.2,-0.03],[413.2,0.88],[414.2,0.12],[415.2,0.92],
[416.2,0.15],[417.2,0.98],[418.2,0.2],[419.2,1.1],[420.2,0.3],[421.2,1.25],[422.2,0.4],[423.2,1.35],
[424.2,0.5],[425.2,1.45],[426.2,0.6],[427.2,1.5],[428.2,0.65],[429.2,1.55],[430.2,0.6],[431.2,1.58],
[432.2,0.55],[433.2,1.5],[434.2,0.04],[435.2,1.52],[436.2,0.6],[437.2,1.55],[438.2,0.5],[439.2,1.5],
[440.2,0.55],[441.2,1.58],[442.2,0.45],[443.2,1.52],[444.2,0.6],[445.2,1.5],[446.2,0.2],[447.2,1.55],
[448.2,0.5],[449.2,1.5],[450.2,0.6],[451.2,1.52],[452.2,0.45],[453.2,1.55],[454.2,0.55],[455.2,1.5],
[456.2,0.4],[457.2,1.52],[458.2,0.6],[459.2,1.5],[460.2,0.5],[461.2,1.55],[462.2,0.45],[463.2,-0.22],
[464.2,1.5],[465.2,0.55],[466.2,1.52],[467.2,0.45],[468.2,1.55],[469.2,0.6],[470.2,1.5],[471.2,0.45],
[472.2,1.52],[473.2,0.55],[474.2,1.5],[475.2,0.5],[476.2,1.55],[477.2,0.06],[478.2,1.5],[479.2,0.6],
[480.2,1.52],[481.2,0.3],[482.2,1.5],[483.2,0.55],[484.2,1.55],[485.2,0.45],[486.2,1.5],[487.2,0.35],
[488.2,1.52],[489.2,0.5],[490.2,1.48],[491.2,0.55],[492.2,1.5],[493.2,0.45],[494.2,1.52],[495.2,0.6],
[496.2,1.5],[497.2,0.2],[498.2,1.48],[499.2,0.5],[500,1.45]
];

const markerPt = [[372.5, 0.68]];   // black dot (log10 d)
const vLineTime = 348;               // red vertical line in bottom panel

// axis tick definitions (exponents)
const rhoMajor = [10, 12, 14], rhoMinorDec = [8, 10, 12, 14];
const lMajor = [0, 2], lMinorDec = [-2, 0, 2];
const dMajor = [1, 3], dMinorDec = [-1, 1, 3];
const minorMult = [2, 3, 4, 5, 6, 7, 8, 9];

// ---------------- CHART ----------------
const FONT = 'DejaVu Sans';
const RED = '#ff0000', BLUE = '#0000ff';
const LEFT = 129, WIDTH = 660.3;
const grids = [
  {left: LEFT, width: WIDTH, top: 20, height: 197.3},
  {left: LEFT, width: WIDTH, top: 217.3, height: 199},
  {left: LEFT, width: WIDTH, top: 416.3, height: 198.2}
];
const ranges = [[8.397, 14.813], [-1.694, 2.317], [-0.519, 3.298]];

function minorVals(decs, r) {
  const out = [];
  decs.forEach(e => minorMult.forEach(k => {
    const v = e + Math.log10(k);
    if (v > r[0] && v < r[1]) out.push(v);
  }));
  return out;
}
function expStr(v) { const n = Math.round(v); return (n < 0 ? '\u2212' : '') + Math.abs(n); }

const nameRich = {
  n: {fontSize: 28, fontFamily: FONT, color: '#000', lineHeight: 34, verticalAlign: 'middle'},
  i: {fontSize: 28, fontFamily: FONT, color: '#000', lineHeight: 34, fontStyle: 'italic'},
  sup: {fontSize: 19.6, fontFamily: FONT, color: '#000', lineHeight: 20, verticalAlign: 'top'},
  sub: {fontSize: 19.6, fontFamily: FONT, color: '#000', lineHeight: 20, verticalAlign: 'bottom'}
};
const labelRich = {
  b: {fontSize: 25, fontFamily: FONT, color: '#000', lineHeight: 30},
  s: {fontSize: 17.5, fontFamily: FONT, color: '#000', lineHeight: 17, verticalAlign: 'top'}
};

function yAxesFor(gi, majors, minorDecs, name, gap) {
  const r = ranges[gi];
  return [
    {type: 'value', gridIndex: gi, min: r[0], max: r[1], position: 'left',
     axisLine: {show: false, onZero: false}, splitLine: {show: false},
     axisTick: {show: true, customValues: majors, length: 7, lineStyle: {color: '#000', width: 1.3}},
     axisLabel: {show: true, customValues: majors, margin: 13,
       formatter: v => '{b|10}{s|' + expStr(v) + '}', rich: labelRich},
     name: name, nameLocation: 'middle', nameRotate: 90, nameGap: gap,
     nameTextStyle: {rich: nameRich, fontFamily: FONT, fontSize: 28, color: '#000'}},
    {type: 'value', gridIndex: gi, min: r[0], max: r[1], position: 'left',
     axisLine: {show: false, onZero: false}, splitLine: {show: false},
     axisTick: {show: true, customValues: minorVals(minorDecs, r), length: 4, lineStyle: {color: '#000', width: 1}},
     axisLabel: {show: false}}
  ];
}

const yAxis = [].concat(
  yAxesFor(0, rhoMajor, rhoMinorDec, '{i|ρ}{n| [M}{sub|⊙}{n| kpc}{sup|\u22123}{n|]}', 76),
  yAxesFor(1, lMajor, lMinorDec, '{n|L [kpc km s}{sup|\u22121}{n|]}', 74),
  yAxesFor(2, dMajor, dMinorDec, '{n|d [pc]}', 76)
);

const xAxis = [0, 1, 2].map(gi => ({
  type: 'value', gridIndex: gi, min: 0, max: 500, interval: 100,
  axisLine: {show: false, onZero: false}, splitLine: {show: false},
  axisTick: {show: gi === 2, length: 7, lineStyle: {color: '#000', width: 1.3}, customValues: xTicks},
  axisLabel: {show: gi === 2, fontSize: 25, fontFamily: FONT, color: '#000', margin: 13, customValues: xTicks},
  name: gi === 2 ? 'Time [Myr]' : '', nameLocation: 'middle', nameGap: 50,
  nameTextStyle: {fontSize: 28, fontFamily: FONT, color: '#000'}
}));

function lineSeries(data, xi, yi, color, dashed, z, smooth) {
  return {type: 'line', xAxisIndex: xi, yAxisIndex: yi, data: data, symbol: 'none', showSymbol: false,
    silent: true, z: z, smooth: smooth || false, lineStyle: {color: color, width: 2.8, type: dashed ? [10, 4.5] : 'solid',
    cap: 'butt', join: 'round'}, clip: true};
}

const series = [
  lineSeries(rhoPts, 0, 0, RED, false, 3, 0.35),
  lineSeries(lSolid, 1, 2, RED, false, 3),
  lineSeries(lDash, 1, 2, RED, true, 3),
  lineSeries(dBlue, 2, 4, BLUE, false, 3, 0.45),
  Object.assign(lineSeries(dRed, 2, 4, RED, false, 4, 0.45), {
    markLine: {silent: true, symbol: 'none', label: {show: false},
      lineStyle: {color: RED, width: 3, type: 'solid'}, data: [{xAxis: vLineTime}], animation: false}
  }),
  {type: 'scatter', xAxisIndex: 2, yAxisIndex: 4, data: markerPt, symbol: 'circle', symbolSize: 11,
   itemStyle: {color: '#000'}, z: 6, silent: true}
];

const chart = echarts.init(document.getElementById('c'), null, {renderer: 'canvas'});
chart.setOption({
  animation: false,
  backgroundColor: '#fff',
  textStyle: {fontFamily: FONT},
  grid: grids.map(g => Object.assign({show: true, borderColor: '#000', borderWidth: 1.3,
    backgroundColor: 'transparent', z: 10, containLabel: false}, g)),
  xAxis: xAxis,
  yAxis: yAxis,
  series: series
});
</script></body></html>
